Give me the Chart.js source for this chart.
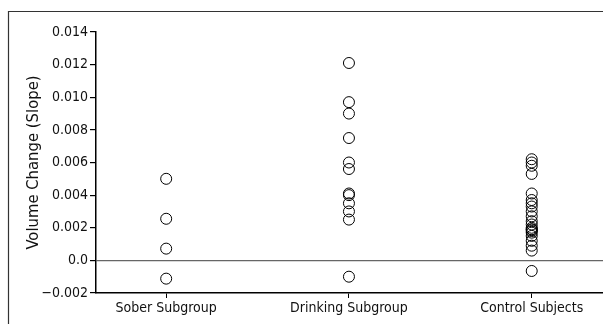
<!DOCTYPE html>
<html lang="en">
  <head>
    <meta charset="UTF-8" />
    <title>Volume Change (Slope)</title>
    <script src="https://cdn.jsdelivr.net/npm/chart.js"></script>
    <style>
      body { margin: 0; background: #fff; }
      #wrap { position: relative; width: 603px; height: 324px; }
    </style>
  </head>
  <body>
    <div id="wrap"><canvas id="slopeChart" width="603" height="324"></canvas></div>

    <script>
      const groups = ["Sober Subgroup", "Drinking Subgroup", "Control Subjects"];
      const yTickLabels = ["\u22120.002", "0.0", "0.002", "0.004", "0.006", "0.008", "0.010", "0.012", "0.014"];

      const sober = [0.0050, 0.00255, 0.00072, -0.00112];
      const drinking = [0.0121, 0.0097, 0.0090, 0.0075, 0.0060, 0.0056, 0.0041, 0.0040, 0.0035, 0.0030, 0.0025, -0.0010];
      const control = [0.0062, 0.0060, 0.0058, 0.0053, 0.0041, 0.0037, 0.0035, 0.0033, 0.0030, 0.0027, 0.0024, 0.0022,
        0.0020, 0.0019, 0.0019, 0.0018, 0.0017, 0.0015, 0.0012, 0.0009, 0.0006, -0.00065];

      const font = "'Liberation Sans Narrow', 'DejaVu Sans Condensed', 'Liberation Sans', sans-serif";
      Chart.defaults.font.family = font;
      Chart.defaults.color = "#111";

      const points = [];
      [sober, drinking, control].forEach((vals, i) => {
        vals.forEach((v) => points.push({ x: i + 1, y: v }));
      });

      // outer frame (left and top edges only, the rest is cropped)
      const frame = {
        id: "frame",
        afterDraw(chart) {
          const c = chart.ctx;
          c.save();
          c.strokeStyle = "#333";
          c.lineWidth = 1.2;
          c.beginPath();
          c.moveTo(8.5, 324);
          c.lineTo(8.5, 11.5);
          c.lineTo(603, 11.5);
          c.stroke();
          c.restore();
        },
      };

      new Chart(document.getElementById("slopeChart"), {
        type: "scatter",
        data: {
          datasets: [
            {
              data: points,
              pointRadius: 5.5,
              pointHoverRadius: 5.5,
              borderWidth: 1,
              borderColor: "#000",
              backgroundColor: "rgba(0,0,0,0)",
            },
          ],
        },
        options: {
          responsive: false,
          animation: false,
          events: [],
          layout: { autoPadding: false, padding: { left: 24, right: 0, top: 32, bottom: 0 } },
          plugins: { legend: { display: false }, tooltip: { enabled: false } },
          scales: {
            x: {
              type: "linear",
              min: 0.616,
              max: 3.39,
              afterBuildTicks: (s) => { s.ticks = groups.map((g, i) => ({ value: i + 1 })); },
              afterFit: (s) => { s.height = 31; s.paddingLeft = 0; s.paddingRight = 0; },
              ticks: {
                callback: (v) => groups[v - 1],
                font: { size: 14 },
                color: "#111",
                padding: 2,
                maxRotation: 0,
                autoSkip: false,
              },
              grid: { drawOnChartArea: false, drawTicks: true, tickLength: 5, tickColor: "#000" },
              border: { color: "#000", width: 1.5 },
            },
            y: {
              min: -0.002,
              max: 0.014,
              afterBuildTicks: (s) => { s.ticks = yTickLabels.map((t, i) => ({ value: -0.002 + i * 0.002 })); },
              afterFit: (s) => { s.width = 72; },
              ticks: {
                callback: (v, i) => yTickLabels[i],
                font: { size: 14 },
                color: "#111",
                padding: 2,
              },
              title: {
                display: true,
                text: "Volume Change (Slope)",
                font: { size: 16.5 },
                color: "#111",
                padding: { top: 0, bottom: 0 },
              },
              grid: {
                color: (ctx) => (ctx.tick && Math.abs(ctx.tick.value) < 1e-9 ? "#666" : "rgba(0,0,0,0)"),
                lineWidth: 1.2,
                drawTicks: true,
                tickLength: 6,
                tickColor: "#000",
              },
              border: { color: "#000", width: 1.5 },
            },
          },
        },
        plugins: [frame],
      });
    </script>
  </body>
</html>
